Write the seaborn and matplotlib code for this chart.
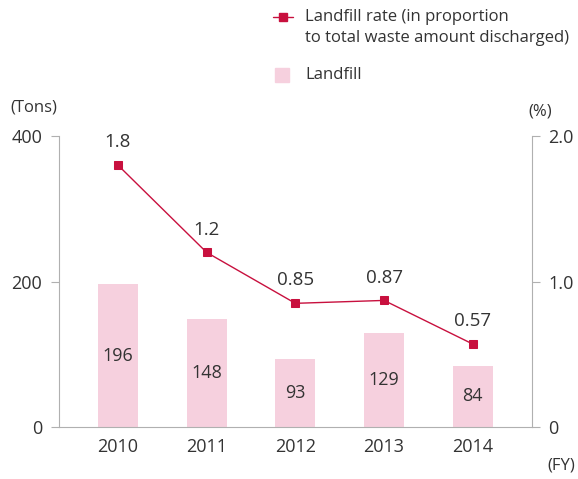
import matplotlib
matplotlib.use("Agg")
import matplotlib.pyplot as plt
import seaborn as sns
from matplotlib.lines import Line2D
from matplotlib.patches import Rectangle

# Data
years = ["2010", "2011", "2012", "2013", "2014"]
landfill = [196, 148, 93, 129, 84]
rate = [1.8, 1.2, 0.85, 0.87, 0.57]
rate_labels = ["1.8", "1.2", "0.85", "0.87", "0.57"]

bar_color = "#f6d0de"
line_color = "#c8103e"
text_color = "#333333"
axis_color = "#b0b0b0"

sns.set_style("white")
plt.rcParams["font.family"] = ["Open Sans", "DejaVu Sans"]

fig = plt.figure(figsize=(5.78, 4.79), dpi=100)
ax = fig.add_axes([0.102, 0.1086, 0.818, 0.6074])

# -----------------------------------
# BARS (left axis)
# -----------------------------------
sns.barplot(x=years, y=landfill, color=bar_color, width=0.45, ax=ax,
            saturation=1, edgecolor="none")
ax.set_ylim(0, 400)
ax.set_yticks([0, 200, 400])
for i, v in enumerate(landfill):
    ax.text(i, v / 2, str(v), ha="center", va="center", fontsize=13, color=text_color)

# -----------------------------------
# LINE (right axis)
# -----------------------------------
ax2 = ax.twinx()
sns.pointplot(x=years, y=rate, color=line_color, markers="s", markersize=6,
              linewidth=1, ax=ax2)
ax2.set_ylim(0, 2.0)
ax2.set_yticks([0, 1.0, 2.0])
ax2.set_yticklabels(["0", "1.0", "2.0"])
for i, v in enumerate(rate):
    ax2.annotate(rate_labels[i], (i, v), xytext=(0, 10), textcoords="offset points",
                 ha="center", va="bottom", fontsize=13.5, color=text_color)

ax.set_xlim(-0.665, 4.665)
ax2.set_xlim(-0.665, 4.665)

for a in (ax, ax2):
    a.set_xlabel("")
    a.set_ylabel("")
    for s in a.spines.values():
        s.set_visible(False)
    a.tick_params(colors=axis_color, labelcolor=text_color, labelsize=13, length=6, width=0.8)

ax.spines["left"].set_visible(True)
ax.spines["bottom"].set_visible(True)
ax.spines["left"].set_color(axis_color)
ax.spines["bottom"].set_color(axis_color)
ax2.spines["right"].set_visible(True)
ax2.spines["right"].set_color(axis_color)
ax.tick_params(axis="x", length=0, pad=8)
ax.tick_params(axis="y", pad=6)
ax2.tick_params(axis="y", pad=6)

# Unit labels
fig.text(10 / 578, 1 - 108 / 479, "(Tons)", fontsize=12, color=text_color, va="center")
fig.text(528 / 578, 1 - 112 / 479, "(%)", fontsize=12, color=text_color, va="center")
fig.text(575 / 578, 1 - 466 / 479, "(FY)", fontsize=12, color=text_color, va="center", ha="right")

# -----------------------------------
# LEGEND
# -----------------------------------
fig.add_artist(Line2D([273 / 578, 293 / 578], [1 - 17 / 479] * 2, color=line_color, lw=1,
                      transform=fig.transFigure))
fig.add_artist(Line2D([283 / 578], [1 - 17 / 479], marker="s", markersize=6, color=line_color,
                      transform=fig.transFigure))
fig.text(305 / 578, 1 - 17 / 479, "Landfill rate (in proportion", fontsize=12,
         color=text_color, va="center")
fig.text(305 / 578, 1 - 38 / 479, "to total waste amount discharged)", fontsize=12,
         color=text_color, va="center")
fig.add_artist(Rectangle((275 / 578, 1 - 82 / 479), 14 / 578, 14 / 479, color=bar_color,
                         transform=fig.transFigure))
fig.text(305 / 578, 1 - 75 / 479, "Landfill", fontsize=12, color=text_color, va="center")

plt.savefig("out.png", dpi=100)
